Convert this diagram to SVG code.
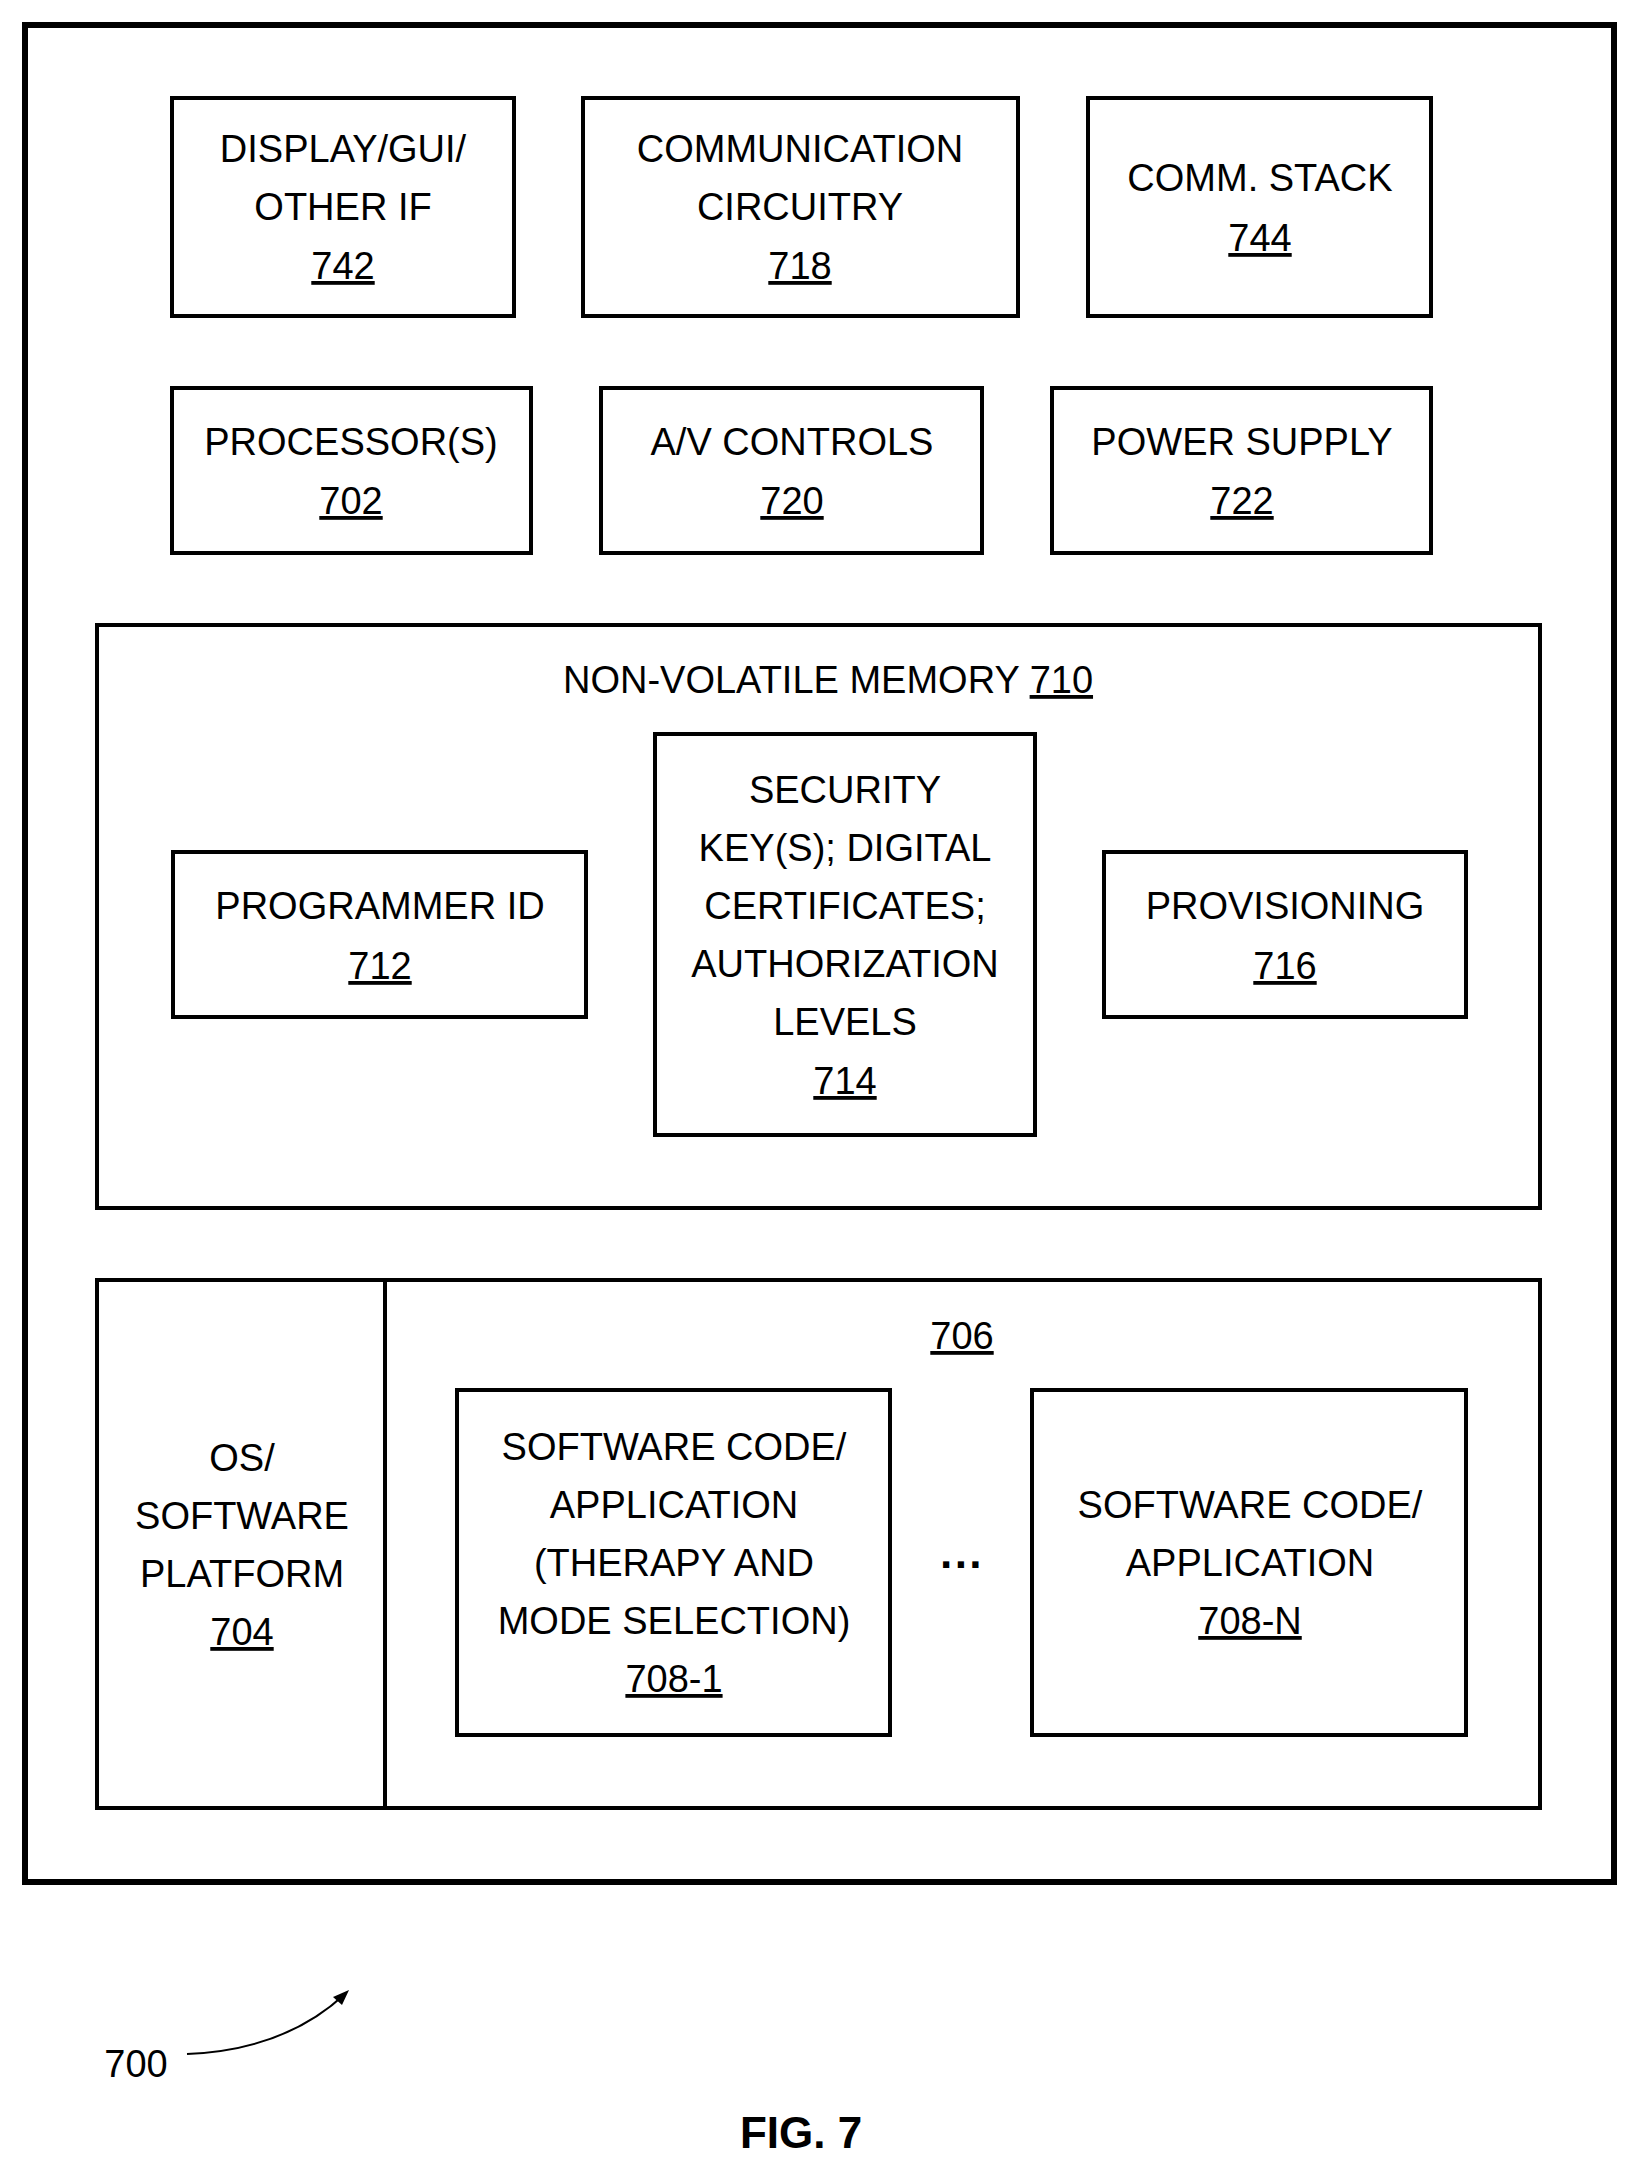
<svg xmlns="http://www.w3.org/2000/svg" width="1642" height="2178" viewBox="0 0 1642 2178">
<style>
rect{fill:none;stroke:#000;stroke-width:4}
text{font-family:"Liberation Sans",Arial,sans-serif;font-size:38px;text-anchor:middle;fill:#000}
.u{text-decoration:underline}
</style>
<rect width="1642" height="2178" style="fill:#fff;stroke:none"/>
<g id="n700"><rect x="25" y="25" width="1589" height="1857" style="stroke-width:6"/></g>
<g id="n742"><rect x="172" y="98" width="342" height="218"/><text x="343" y="162">DISPLAY/GUI/</text><text x="343" y="220">OTHER IF</text><text x="343" y="279" class="u">742</text></g>
<g id="n718"><rect x="583" y="98" width="435" height="218"/><text x="800" y="162">COMMUNICATION</text><text x="800" y="220">CIRCUITRY</text><text x="800" y="279" class="u">718</text></g>
<g id="n744"><rect x="1088" y="98" width="343" height="218"/><text x="1260" y="191">COMM. STACK</text><text x="1260" y="251" class="u">744</text></g>
<g id="n702"><rect x="172" y="388" width="359" height="165"/><text x="351" y="455">PROCESSOR(S)</text><text x="351" y="514" class="u">702</text></g>
<g id="n720"><rect x="601" y="388" width="381" height="165"/><text x="792" y="455">A/V CONTROLS</text><text x="792" y="514" class="u">720</text></g>
<g id="n722"><rect x="1052" y="388" width="379" height="165"/><text x="1242" y="455">POWER SUPPLY</text><text x="1242" y="514" class="u">722</text></g>
<g id="n710"><rect x="97" y="625" width="1443" height="583"/><text x="828" y="693">NON-VOLATILE MEMORY  <tspan class="u">710</tspan></text></g>
<g id="n712"><rect x="173" y="852" width="413" height="165"/><text x="380" y="919">PROGRAMMER ID</text><text x="380" y="979" class="u">712</text></g>
<g id="n714"><rect x="655" y="734" width="380" height="401"/><text x="845" y="803">SECURITY</text><text x="845" y="861">KEY(S); DIGITAL</text><text x="845" y="919">CERTIFICATES;</text><text x="845" y="977">AUTHORIZATION</text><text x="845" y="1035">LEVELS</text><text x="845" y="1094" class="u">714</text></g>
<g id="n716"><rect x="1104" y="852" width="362" height="165"/><text x="1285" y="919">PROVISIONING</text><text x="1285" y="979" class="u">716</text></g>
<g id="n704"><rect x="97" y="1280" width="288" height="528"/><text x="242" y="1471">OS/</text><text x="242" y="1529">SOFTWARE</text><text x="242" y="1587">PLATFORM</text><text x="242" y="1645" class="u">704</text></g>
<g id="n706"><rect x="385" y="1280" width="1155" height="528"/><text x="962" y="1349" class="u">706</text><text x="962" y="1580" style="font-size:44px;font-weight:bold">···</text></g>
<g id="n708-1"><rect x="457" y="1390" width="433" height="345"/><text x="674" y="1460">SOFTWARE CODE/</text><text x="674" y="1518">APPLICATION</text><text x="674" y="1576">(THERAPY AND</text><text x="674" y="1634">MODE SELECTION)</text><text x="674" y="1692" class="u">708-1</text></g>
<g id="n708-N"><rect x="1032" y="1390" width="434" height="345"/><text x="1250" y="1518">SOFTWARE CODE/</text><text x="1250" y="1576">APPLICATION</text><text x="1250" y="1634" class="u">708-N</text></g>
<g id="connectors"><path d="M187 2054 Q285 2050 345 1994" fill="none" stroke="#000" stroke-width="2"/><path d="M349 1990 L333 1997 L342 2005 Z" fill="#000"/></g>
<text x="136" y="2077">700</text>
<text x="801" y="2148" style="font-weight:bold;font-size:44px">FIG. 7</text>
</svg>
